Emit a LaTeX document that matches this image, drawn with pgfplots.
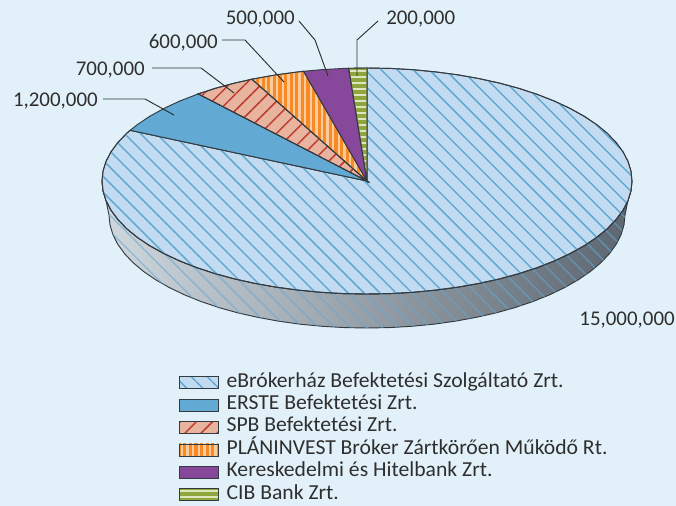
\documentclass[border=0pt]{standalone}
\usepackage{fontspec}
\setmainfont{Carlito}
\newfontfamily\legfont[FakeStretch=1.015]{Carlito}
\usepackage{pgfplots}
\pgfplotsset{compat=1.18}
\usetikzlibrary{patterns.meta}

\definecolor{bgblue}{HTML}{E2F1F9}
\definecolor{ink}{HTML}{2E2E2E}
\definecolor{edge}{HTML}{333A40}
\definecolor{ebfill}{HTML}{C3DBF0}
\definecolor{ebline}{HTML}{62A9D3}
\definecolor{erste}{HTML}{62A9D3}
\definecolor{spbfill}{HTML}{E8B49F}
\definecolor{spbline}{HTML}{BE3B2F}
\definecolor{planfill}{HTML}{FBCB9B}
\definecolor{planline}{HTML}{F58A27}
\definecolor{khfill}{HTML}{87479A}
\definecolor{cibfill}{HTML}{DDE6BC}
\definecolor{cibline}{HTML}{8FA63F}
\definecolor{wallL}{HTML}{D0D8DE}
\definecolor{wallM}{HTML}{A0ABB5}
\definecolor{wallR}{HTML}{5C6670}

\pgfplotsset{
  eb/.style={fill=ebfill,draw=edge,line width=0.7pt,
    postaction={pattern={Lines[angle=-45,distance=8.5pt,line width=1.1pt]},pattern color=ebline}},
  er/.style={fill=erste,draw=edge,line width=0.7pt},
  spb/.style={fill=spbfill,draw=edge,line width=0.7pt,
    postaction={pattern={Lines[angle=45,distance=8.5pt,line width=1.1pt]},pattern color=spbline}},
  plan/.style={fill=planfill,draw=edge,line width=0.7pt,
    postaction={pattern={Lines[angle=90,distance=4.2pt,line width=2.4pt]},pattern color=planline}},
  kh/.style={fill=khfill,draw=edge,line width=0.7pt},
  cib/.style={fill=cibfill,draw=edge,line width=0.7pt,
    postaction={pattern={Lines[angle=0,distance=4.5pt,line width=2.7pt]},pattern color=cibline}},
  leader/.style={ink,line width=0.7pt,forget plot},
}

\newcommand{\lab}{\fontsize{15.7}{18}\selectfont\color{ink}}

\begin{document}
\begin{tikzpicture}
\begin{axis}[
  scale only axis,
  width=507pt,height=379.5pt,
  xmin=0,xmax=676,ymin=0,ymax=506,
  y dir=reverse,
  hide axis,
  clip=false,
  legend cell align=left,
  legend image code/.code={\path[#1] (0pt,-4.5pt) rectangle (29pt,4.5pt);},
  legend style={at={(axis description cs:0.2648,0.2600)},anchor=north west,
    draw=none,fill=none,inner sep=0pt,outer sep=0pt,
    font=\legfont\fontsize{16}{18}\selectfont\color{ink},
    row sep=4.3pt,
    nodes={text height=9.5pt,text depth=3pt,inner sep=0pt,outer sep=0pt},
    /tikz/every odd column/.append style={column sep=6pt}},
]
% background
\addplot[fill=bgblue,draw=none,forget plot] coordinates {(0,0) (676,0) (676,506) (0,506)} -- cycle;

% side wall of the disc, in picture pixels
\addplot[left color=wallL,middle color=wallM,right color=wallR,draw=edge,line width=0.7pt,forget plot] coordinates {
  (102,181) (103,190.8) (106,200.6) (111,210.2) (118,219.6) (126.8,228.8) (137.5,237.5) (149.9,245.8)
  (164,253.6) (179.6,260.9) (196.7,267.6) (215,273.6) (234.5,278.9) (255,283.4) (276.4,287.2) (298.4,290.1)
  (321,292.3) (343.9,293.6) (367,294) (390.1,293.6) (413,292.3) (435.6,290.1) (457.6,287.2) (479,283.4)
  (499.5,278.9) (519,273.6) (537.3,267.6) (554.4,260.9) (570,253.6) (584.1,245.8) (596.5,237.5) (607.2,228.8)
  (616,219.6) (623,210.2) (628,200.6) (631,190.8) (632,181)
  (625,215) (624,224.85) (621.1,234.6) (616.2,244.3) (609.4,253.7) (600.8,262.8) (590.4,271.5) (578.3,279.8)
  (564.6,287.6) (549.4,294.9) (532.8,301.6) (515,307.6) (496,312.9) (476,317.4) (455.2,321.2) (433.8,324.2)
  (411.8,326.3) (389.5,327.6) (367,328) (344.5,327.6) (322.2,326.3) (300.2,324.2) (278.8,321.2) (258,317.4)
  (238,312.9) (219,307.6) (201.2,301.6) (184.6,294.9) (169.4,287.6) (155.7,279.8) (143.6,271.5) (133.2,262.8)
  (124.6,253.7) (117.8,244.3) (112.9,234.6) (110,224.85) (109,215)
} -- cycle;
\addplot[draw=none,pattern={Lines[angle=-45,distance=8.5pt,line width=1.1pt]},pattern color=ebline,opacity=0.55,forget plot] coordinates {
  (102,181) (103,190.8) (106,200.6) (111,210.2) (118,219.6) (126.8,228.8) (137.5,237.5) (149.9,245.8)
  (164,253.6) (179.6,260.9) (196.7,267.6) (215,273.6) (234.5,278.9) (255,283.4) (276.4,287.2) (298.4,290.1)
  (321,292.3) (343.9,293.6) (367,294) (390.1,293.6) (413,292.3) (435.6,290.1) (457.6,287.2) (479,283.4)
  (499.5,278.9) (519,273.6) (537.3,267.6) (554.4,260.9) (570,253.6) (584.1,245.8) (596.5,237.5) (607.2,228.8)
  (616,219.6) (623,210.2) (628,200.6) (631,190.8) (632,181)
  (625,215) (624,224.85) (621.1,234.6) (616.2,244.3) (609.4,253.7) (600.8,262.8) (590.4,271.5) (578.3,279.8)
  (564.6,287.6) (549.4,294.9) (532.8,301.6) (515,307.6) (496,312.9) (476,317.4) (455.2,321.2) (433.8,324.2)
  (411.8,326.3) (389.5,327.6) (367,328) (344.5,327.6) (322.2,326.3) (300.2,324.2) (278.8,321.2) (258,317.4)
  (238,312.9) (219,307.6) (201.2,301.6) (184.6,294.9) (169.4,287.6) (155.7,279.8) (143.6,271.5) (133.2,262.8)
  (124.6,253.7) (117.8,244.3) (112.9,234.6) (110,224.85) (109,215)
} -- cycle;

% eBrokerhaz 15,000,000
\addplot[eb] coordinates {
  (367,181) (367,68) (390.1,68.4) (413,69.7) (435.6,71.9) (457.6,74.8) (479,78.6) (499.5,83.1) (519,88.4)
  (537.3,94.4) (554.4,101.1) (570,108.4) (584.1,116.2) (596.5,124.5) (607.2,133.2) (616,142.4) (623,151.8)
  (628,161.4) (631,171.2) (632,181) (631,190.8) (628,200.6) (623,210.2) (616,219.6) (607.2,228.8) (596.5,237.5)
  (584.1,245.8) (570,253.6) (554.4,260.9) (537.3,267.6) (519,273.6) (499.5,278.9) (479,283.4) (457.6,287.2)
  (435.6,290.1) (413,292.3) (390.1,293.6) (367,294) (343.9,293.6) (321,292.3) (298.4,290.1) (276.4,287.2)
  (255,283.4) (234.5,278.9) (215,273.6) (196.7,267.6) (179.6,260.9) (164,253.6) (149.9,245.8) (137.5,237.5)
  (126.8,228.8) (118,219.6) (111,210.2) (106,200.6) (103,190.8) (102,181) (103,171.2) (106,161.4) (111,151.8)
  (118,142.4) (126.8,133.2) (130.2,130.3)
} -- cycle;
\addlegendentry{eBrókerház Befektetési Szolgáltató Zrt.}

% ERSTE 1,200,000
\addplot[er] coordinates {(367,181) (130.2,130.3) (137.5,124.5) (149.9,116.2) (164,108.4) (179.6,101.1) (198.2,93.9)} -- cycle;
\addlegendentry{ERSTE Befektetési Zrt.}

% SPB 700,000
\addplot[spb] coordinates {(367,181) (198.2,93.9) (215,88.4) (234.5,83.1) (252,79.2)} -- cycle;
\addlegendentry{SPB Befektetési Zrt.}

% PLANINVEST 600,000
\addplot[plan] coordinates {(367,181) (252,79.2) (276.4,74.8) (298.4,71.9) (303.6,71.3)} -- cycle;
\addlegendentry{PLÁNINVEST Bróker Zártkörően Működő Rt.}

% Kereskedelmi es Hitelbank 500,000
\addplot[kh] coordinates {(367,181) (303.6,71.3) (321,69.7) (343.9,68.4) (348.7,68.3)} -- cycle;
\addlegendentry{Kereskedelmi és Hitelbank Zrt.}

% CIB 200,000
\addplot[cib] coordinates {(367,181) (348.7,68.3) (367,68)} -- cycle;
\addlegendentry{CIB Bank Zrt.}

% leader lines
\addplot[leader] coordinates {(299,21) (315,40) (328,76)};
\addplot[leader] coordinates {(222,40) (245,40) (284,82)};
\addplot[leader] coordinates {(152,68) (201,68) (234,93)};
\addplot[leader] coordinates {(103,99) (145,99) (174,115)};
\addplot[leader] coordinates {(378,21) (357,40) (357,76)};

\node[anchor=east,inner sep=0pt,font=\lab] at (axis cs:295,19) {500,000};
\node[anchor=east,inner sep=0pt,font=\lab] at (axis cs:218,43) {600,000};
\node[anchor=east,inner sep=0pt,font=\lab] at (axis cs:145,70) {700,000};
\node[anchor=east,inner sep=0pt,font=\lab] at (axis cs:98,101) {1,200,000};
\node[anchor=west,inner sep=0pt,font=\lab] at (axis cs:386,19) {200,000};
\node[anchor=east,inner sep=0pt,font=\lab] at (axis cs:675,320) {15,000,000};
\end{axis}
\end{tikzpicture}
\end{document}
